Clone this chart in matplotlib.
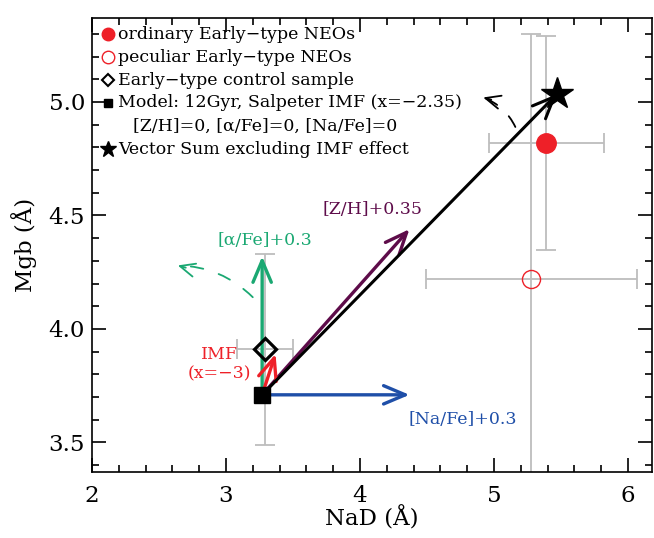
import matplotlib
matplotlib.use("Agg")
import matplotlib.pyplot as plt
from matplotlib.ticker import MultipleLocator

plt.rcParams["font.family"] = ["DejaVu Serif"]
plt.rcParams["mathtext.fontset"] = "dejavuserif"

# ── data ─────────────────────────────────────────────────────────────────────
model_x, model_y = 3.27, 3.71                  # 12Gyr Salpeter model
control_x, control_y = 3.29, 3.91              # early-type control sample
control_xerr, control_yerr = 0.21, 0.42
ordinary_x, ordinary_y = 5.39, 4.82            # ordinary early-type NEOs
ordinary_xerr, ordinary_yerr = 0.43, 0.47
peculiar_x, peculiar_y = 5.28, 4.22            # peculiar early-type NEOs
peculiar_xerr, peculiar_yerr = 0.79, 1.08
vsum_x, vsum_y = 5.47, 5.035                   # vector sum excl. IMF

# model response vectors: (label, end_x, end_y, colour)
vec_labels = ["[α/Fe]+0.3", "[Na/Fe]+0.3", "[Z/H]+0.35", "IMF\n(x=−3)"]
vec_end_x = [3.27, 4.37, 4.37, 3.37]
vec_end_y = [4.32, 3.71, 4.44, 3.89]
vec_colors = ["#1aa872", "#1f4fa8", "#5e0c4a", "#ee2028"]
vec_label_x = [3.29, 4.36, 3.72, 2.95]
vec_label_y = [4.39, 3.60, 4.525, 3.846]
vec_label_ha = ["center", "left", "left", "center"]

# dashed "rotation" hints: start, end, colour
hint_start = [(3.20, 4.14), (5.16, 4.89)]
hint_end = [(2.64, 4.28), (4.92, 5.02)]
hint_colors = ["#1aa872", "black"]

legend_texts = [
    "ordinary Early−type NEOs",
    "peculiar Early−type NEOs",
    "Early−type control sample",
    "Model: 12Gyr, Salpeter IMF (x=−2.35)",
    "[Z/H]=0, [α/Fe]=0, [Na/Fe]=0",
    "Vector Sum excluding IMF effect",
]

RED = "#ee2028"
GREY = "#bdbdbd"

fig = plt.figure(figsize=(6.54, 5.38), dpi=100)
ax = fig.add_axes([92 / 654, 66 / 538, 560 / 654, 454 / 538])

# ── error bars ───────────────────────────────────────────────────────────────
eb = dict(fmt="none", ecolor=GREY, elinewidth=1.3, capsize=7, capthick=1.3, zorder=1)
ax.errorbar(peculiar_x, peculiar_y, xerr=peculiar_xerr, yerr=peculiar_yerr, **eb)
ax.errorbar(ordinary_x, ordinary_y, xerr=ordinary_xerr, yerr=ordinary_yerr, **eb)
ax.errorbar(control_x, control_y, xerr=control_xerr, yerr=control_yerr, **eb)

# ── vectors ──────────────────────────────────────────────────────────────────
head = "->,head_length=1.3,head_width=0.55"
for lab, ex, ey, c, lx, ly, ha in zip(vec_labels, vec_end_x, vec_end_y, vec_colors,
                                       vec_label_x, vec_label_y, vec_label_ha):
    ax.annotate("", xy=(ex, ey), xytext=(model_x, model_y),
                arrowprops=dict(arrowstyle=head, color=c, lw=2.4,
                                shrinkA=0, shrinkB=0, mutation_scale=12), zorder=3)
    ax.text(lx, ly, lab, color=c, fontsize=12.5, ha=ha, va="center",
            linespacing=1.2)

# vector sum
ax.annotate("", xy=(vsum_x, vsum_y), xytext=(model_x, model_y),
            arrowprops=dict(arrowstyle=head, color="black", lw=2.2,
                            shrinkA=0, shrinkB=0, mutation_scale=12), zorder=3)

# dashed hints: dashed shaft + solid open head
for (sx, sy), (ex, ey), c in zip(hint_start, hint_end, hint_colors):
    ax.annotate("", xy=(ex, ey), xytext=(sx, sy),
                arrowprops=dict(arrowstyle="-", color=c, lw=1.3, ls=(0, (7, 9)),
                                connectionstyle="arc3,rad=0.2",
                                shrinkA=0, shrinkB=0))
    ax.annotate("", xy=(ex, ey), xytext=(ex + 0.06, ey - 0.01),
                arrowprops=dict(arrowstyle="->,head_length=0.9,head_width=0.4",
                                color=c, lw=1.3, shrinkA=0, shrinkB=0,
                                mutation_scale=12))

# ── points ───────────────────────────────────────────────────────────────────
ax.plot(peculiar_x, peculiar_y, "o", ms=13, mfc="none", mec=RED, mew=1.0, zorder=4)
ax.plot(ordinary_x, ordinary_y, "o", ms=14, color=RED, zorder=4)
ax.plot(control_x, control_y, "D", ms=11, mfc="none", mec="black", mew=2.3, zorder=5)
ax.plot(model_x, model_y, "s", ms=11, color="black", zorder=5)
ax.plot(vsum_x, vsum_y, "*", ms=24, color="black", zorder=5)

# ── legend (hand made) ──────────────────────────────────────────────────────
leg_y = [0.964, 0.914, 0.863, 0.813, 0.762, 0.711]
mk = [dict(marker="o", ms=9, color=RED),
      dict(marker="o", ms=9, mfc="none", mec=RED, mew=1.0),
      dict(marker="D", ms=6, mfc="none", mec="black", mew=1.5),
      dict(marker="s", ms=6, color="black"),
      None,
      dict(marker="*", ms=12, color="black")]
for txt, yy, m in zip(legend_texts, leg_y, mk):
    if m is not None:
        ax.plot(0.028, yy, transform=ax.transAxes, ls="none", clip_on=False, **m)
        ax.text(0.046, yy, txt, transform=ax.transAxes, fontsize=12.5, va="center")
    else:
        ax.text(0.074, yy, txt, transform=ax.transAxes, fontsize=12.5, va="center")

# ── axes ─────────────────────────────────────────────────────────────────────
ax.set_xlim(2, 6.18)
ax.set_ylim(3.37, 5.37)
ax.xaxis.set_major_locator(MultipleLocator(1))
ax.xaxis.set_minor_locator(MultipleLocator(0.2))
ax.yaxis.set_major_locator(MultipleLocator(0.5))
ax.yaxis.set_minor_locator(MultipleLocator(0.1))
ax.yaxis.set_major_formatter(plt.FormatStrFormatter("%.1f"))
ax.tick_params(which="both", direction="in", top=True, right=True,
               labelsize=16.5, width=1.2)
ax.tick_params(which="major", length=10)
ax.tick_params(which="minor", length=5)
ax.tick_params(axis="x", which="major", pad=9)
ax.tick_params(axis="y", which="major", pad=5)
for sp in ax.spines.values():
    sp.set_linewidth(1.2)
ax.set_xlabel("NaD (Å)", fontsize=16.5, labelpad=0)
ax.set_ylabel("Mgb (Å)", fontsize=16.5, labelpad=8)

fig.savefig("out.png", dpi=100)
